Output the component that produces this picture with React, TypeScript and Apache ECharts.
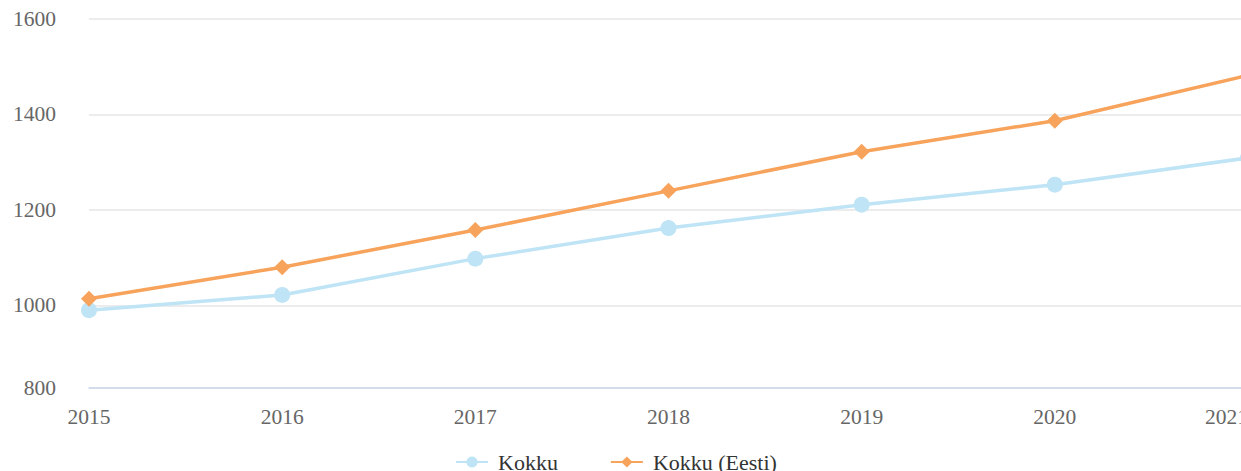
import React, { useEffect, useRef } from "react";
import * as echarts from "echarts";

const years = ["2015", "2016", "2017", "2018", "2019", "2020", "2021"];
const kokku = [990, 1022, 1098, 1162, 1211, 1253, 1309];
const kokkuEesti = [1014, 1080, 1158, 1240, 1322, 1387, 1482];
const seriesNames = ["Kokku", "Kokku (Eesti)"];
const yAxisMin = 827;
const yAxisMax = 1600;
const yBottomLabel = "800";

const FONT = '"Times New Roman", "Liberation Serif", "DejaVu Serif", serif';

export default function App() {
  const ref = useRef<HTMLDivElement>(null);
  useEffect(() => {
    if (!ref.current) return;
    const chart = echarts.init(ref.current, undefined, { renderer: "svg" });
    chart.setOption({
      animation: false,
      backgroundColor: "#ffffff",
      grid: {
        left: 89,
        right: 52,
        top: 19,
        bottom: 83,
        containLabel: false,
        outerBoundsMode: "none",
      },
      legend: {
        left: 450,
        top: 446,
        itemWidth: 32,
        itemHeight: 14,
        itemGap: 52,
        textStyle: {
          fontFamily: FONT,
          fontSize: 22,
          color: "#333333",
          padding: [0, 0, 0, 5],
        },
        data: seriesNames,
      },
      xAxis: {
        type: "category",
        data: years,
        boundaryGap: false,
        axisLine: { show: true, lineStyle: { color: "#ccd6eb", width: 1.5 } },
        axisTick: { show: false },
        splitLine: { show: false },
        axisLabel: {
          margin: 18,
          fontFamily: FONT,
          fontSize: 21.5,
          color: "#666666",
          alignMaxLabel: "right",
        },
      },
      yAxis: {
        type: "value",
        min: yAxisMin,
        max: yAxisMax,
        minInterval: 200,
        maxInterval: 200,
        axisLine: { show: false },
        axisTick: { show: false },
        splitLine: { show: true, lineStyle: { color: "#e6e6e6", width: 1.5 } },
        axisLabel: {
          margin: 33,
          fontFamily: FONT,
          fontSize: 21.5,
          color: "#666666",
          padding: [6, 0, 0, 0],
          showMinLabel: true,
          showMaxLabel: true,
          formatter: (v: number) => (v < 900 ? yBottomLabel : String(v)),
        },
      },
      series: [
        {
          name: seriesNames[0],
          type: "line",
          data: kokku,
          symbol: "circle",
          symbolSize: 16,
          itemStyle: { color: "#bee4f5" },
          lineStyle: { color: "#bee4f5", width: 3.5 },
          z: 2,
        },
        {
          name: seriesNames[1],
          type: "line",
          data: kokkuEesti,
          symbol: "diamond",
          symbolSize: 16,
          itemStyle: { color: "#f7a35c" },
          lineStyle: { color: "#f7a35c", width: 3.5 },
          z: 3,
        },
      ],
    });
    return () => chart.dispose();
  }, []);
  return (
    <div
      style={{
        position: "fixed",
        left: 0,
        top: 0,
        width: 1241,
        height: 471,
        overflow: "hidden",
        background: "#ffffff",
      }}
    >
      <div ref={ref} style={{ width: 1300, height: 471 }} />
    </div>
  );
}
